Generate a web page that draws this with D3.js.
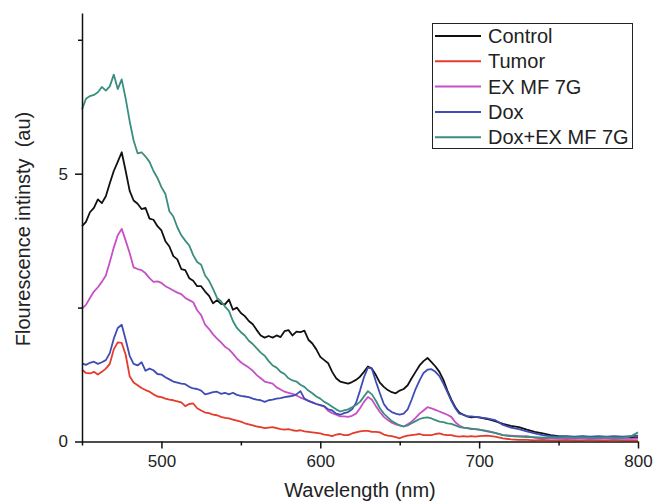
<!DOCTYPE html>
<html>
<head>
<meta charset="utf-8">
<script src="https://cdn.jsdelivr.net/npm/d3@7"></script>
<style>
  html, body { margin: 0; padding: 0; background: #fff; }
  svg { display: block; font-family: "Liberation Sans", Arial, sans-serif; }
</style>
</head>
<body>
<svg id="chart" width="654" height="502"></svg>
<script>
// ---- data ----
const wavelengths = [
  450,452.5,455,457.5,460,462.5,465,467.5,470,472.5,475,477.5,480,482.5,485,487.5,490,492.5,495,497.5,
  500,502.5,505,507.5,510,512.5,515,517.5,520,522.5,525,527.5,530,532.5,535,537.5,540,542.5,545,547.5,
  550,552.5,555,557.5,560,562.5,565,567.5,570,572.5,575,577.5,580,582.5,585,587.5,590,592.5,595,597.5,
  600,602.5,605,607.5,610,612.5,615,617.5,620,622.5,625,627.5,630,632.5,635,637.5,640,642.5,645,647.5,
  650,652.5,655,657.5,660,662.5,665,667.5,670,672.5,675,677.5,680,682.5,685,687.5,690,692.5,695,697.5,
  700,705,710,715,720,725,730,735,740,745,750,755,760,765,770,775,780,785,790,795,800
];
const control = [
  4.02,4.10,4.28,4.36,4.52,4.45,4.58,4.82,5.05,5.22,5.40,5.05,4.68,4.50,4.44,4.34,4.36,4.16,4.14,4.02,
  3.94,3.74,3.64,3.46,3.40,3.22,3.20,3.05,3.00,2.90,2.90,2.80,2.72,2.58,2.64,2.57,2.56,2.65,2.46,2.50,
  2.40,2.34,2.25,2.19,2.08,1.98,1.94,1.97,1.94,1.98,1.95,2.06,2.08,1.98,2.05,2.04,2.07,1.90,1.83,1.72,
  1.58,1.52,1.46,1.30,1.18,1.12,1.10,1.08,1.11,1.15,1.21,1.30,1.40,1.36,1.24,1.10,1.02,0.96,0.92,0.90,
  0.95,0.98,1.05,1.18,1.30,1.42,1.50,1.56,1.48,1.40,1.30,1.15,0.95,0.78,0.64,0.54,0.50,0.47,0.45,0.46,
  0.45,0.42,0.38,0.33,0.29,0.27,0.22,0.18,0.15,0.12,0.10,0.09,0.08,0.09,0.08,0.07,0.08,0.07,0.08,0.07,0.08
];
const tumor = [
  1.34,1.28,1.27,1.30,1.25,1.30,1.36,1.45,1.72,1.85,1.84,1.62,1.22,1.10,1.05,1.00,0.96,0.93,0.88,0.84,
  0.83,0.80,0.78,0.77,0.75,0.73,0.66,0.70,0.71,0.62,0.58,0.54,0.53,0.50,0.49,0.46,0.44,0.43,0.41,0.39,
  0.37,0.34,0.32,0.30,0.28,0.27,0.25,0.26,0.27,0.25,0.23,0.22,0.23,0.21,0.20,0.21,0.19,0.18,0.17,0.16,
  0.15,0.13,0.12,0.10,0.13,0.14,0.12,0.12,0.15,0.17,0.19,0.20,0.20,0.18,0.18,0.17,0.13,0.11,0.10,0.08,
  0.06,0.09,0.11,0.12,0.13,0.14,0.12,0.12,0.12,0.14,0.15,0.13,0.12,0.12,0.10,0.09,0.10,0.09,0.10,0.09,
  0.10,0.11,0.09,0.06,0.04,0.03,0.03,0.02,0.03,0.02,0.02,0.03,0.02,0.02,0.03,0.02,0.02,0.03,0.02,0.02,0.02
];
const exmf7g = [
  2.48,2.55,2.68,2.80,2.88,2.98,3.10,3.35,3.62,3.85,3.97,3.75,3.52,3.25,3.22,3.20,3.14,3.05,2.98,2.99,
  2.96,2.90,2.86,2.82,2.78,2.75,2.68,2.64,2.60,2.45,2.36,2.18,2.10,2.00,1.92,1.85,1.77,1.72,1.64,1.55,
  1.48,1.43,1.38,1.32,1.24,1.18,1.12,1.10,1.08,1.01,0.97,0.93,0.91,0.89,0.86,0.82,0.79,0.76,0.73,0.70,
  0.68,0.65,0.57,0.53,0.50,0.47,0.47,0.46,0.48,0.52,0.62,0.74,0.83,0.78,0.66,0.55,0.46,0.40,0.35,0.32,
  0.30,0.28,0.32,0.37,0.44,0.52,0.58,0.64,0.62,0.59,0.56,0.53,0.50,0.46,0.36,0.30,0.26,0.25,0.23,0.23,
  0.22,0.20,0.16,0.12,0.11,0.10,0.10,0.07,0.06,0.06,0.05,0.06,0.05,0.06,0.05,0.05,0.06,0.05,0.05,0.05,0.06
];
const dox = [
  1.46,1.43,1.47,1.49,1.45,1.48,1.52,1.65,1.92,2.12,2.18,1.90,1.60,1.45,1.42,1.48,1.32,1.36,1.33,1.26,
  1.25,1.20,1.16,1.12,1.10,1.08,1.07,1.02,0.99,0.98,0.95,0.88,0.90,0.92,0.93,0.89,0.91,0.88,0.91,0.87,
  0.85,0.84,0.83,0.80,0.78,0.77,0.74,0.77,0.78,0.80,0.81,0.83,0.84,0.85,0.88,0.94,0.80,0.76,0.73,0.70,
  0.68,0.66,0.60,0.58,0.52,0.50,0.53,0.55,0.60,0.72,0.95,1.20,1.38,1.36,1.12,0.90,0.70,0.60,0.55,0.52,
  0.50,0.52,0.60,0.78,0.98,1.14,1.28,1.34,1.35,1.30,1.22,1.08,0.92,0.76,0.62,0.52,0.50,0.47,0.47,0.46,
  0.45,0.43,0.40,0.31,0.26,0.23,0.19,0.15,0.12,0.10,0.09,0.10,0.09,0.10,0.09,0.10,0.09,0.10,0.09,0.10,0.11
];
const doxExmf7g = [
  6.20,6.40,6.45,6.47,6.52,6.62,6.55,6.63,6.85,6.58,6.76,6.40,5.98,5.62,5.38,5.40,5.32,5.22,5.05,4.92,
  4.75,4.62,4.30,4.20,4.00,3.85,3.75,3.66,3.48,3.35,3.30,3.10,3.00,2.85,2.68,2.62,2.52,2.44,2.25,2.12,
  2.04,1.98,1.88,1.82,1.74,1.66,1.60,1.50,1.42,1.38,1.30,1.26,1.18,1.14,1.12,1.06,1.02,0.95,0.90,0.84,
  0.80,0.74,0.70,0.65,0.60,0.56,0.58,0.60,0.64,0.68,0.74,0.84,0.94,0.88,0.76,0.62,0.52,0.45,0.38,0.34,
  0.30,0.28,0.30,0.34,0.38,0.42,0.44,0.45,0.43,0.40,0.37,0.36,0.34,0.33,0.30,0.27,0.26,0.25,0.24,0.23,
  0.22,0.19,0.16,0.12,0.10,0.09,0.08,0.08,0.07,0.08,0.07,0.08,0.07,0.08,0.07,0.07,0.08,0.07,0.07,0.09,0.17
];
const seriesNames = ["Control", "Tumor", "EX MF 7G", "Dox", "Dox+EX MF 7G"];
const seriesColors = ["#111111", "#e53b2c", "#c650c6", "#3e4cb5", "#3a8e7e"];
const seriesValues = [control, tumor, exmf7g, dox, doxExmf7g];
const xMajorTicks = [500, 600, 700, 800];
const xMinorTicks = [450, 550, 650, 750];
const yMajorTicks = [0, 5];
const yMinorTicks = [2.5, 7.5];

// ---- drawing ----
const svg = d3.select("#chart");
const x = d3.scaleLinear().domain([450, 800]).range([82, 638]);
const y = d3.scaleLinear().domain([0, 8]).range([441.5, 13]);

// lines
const line = d3.line()
  .x((d, i) => x(wavelengths[i]))
  .y(d => y(d));
svg.append("g").selectAll("path")
  .data(seriesValues)
  .join("path")
  .attr("fill", "none")
  .attr("stroke", (d, i) => seriesColors[i])
  .attr("stroke-width", 1.8)
  .attr("stroke-linejoin", "round")
  .attr("d", line);

// x axis
const xAxisG = svg.append("g").attr("transform", `translate(0,${y(0)})`);
xAxisG.call(d3.axisBottom(x).tickValues(xMajorTicks).tickSize(7).tickSizeOuter(0).tickPadding(6));
xAxisG.append("g").call(d3.axisBottom(x).tickValues(xMinorTicks).tickSize(4).tickSizeOuter(0).tickFormat(""))
  .select(".domain").remove();

// y axis
const yAxisG = svg.append("g").attr("transform", `translate(${x(450)},0)`);
yAxisG.call(d3.axisLeft(y).tickValues(yMajorTicks).tickSize(7).tickSizeOuter(0).tickPadding(7).tickFormat(d3.format("d")));
yAxisG.append("g").call(d3.axisLeft(y).tickValues(yMinorTicks).tickSize(4).tickSizeOuter(0).tickFormat(""))
  .select(".domain").remove();

svg.selectAll(".domain").attr("stroke", "#111").attr("stroke-width", 1.5);
svg.selectAll(".tick line").attr("stroke", "#111").attr("stroke-width", 1.5);
svg.selectAll(".tick text")
  .attr("font-family", "'Liberation Sans', Arial, sans-serif")
  .attr("font-size", 17)
  .attr("fill", "#222");

// axis titles
svg.append("text")
  .attr("x", 360).attr("y", 497)
  .attr("text-anchor", "middle")
  .attr("font-size", 20)
  .attr("fill", "#222")
  .text("Wavelength (nm)");
svg.append("text")
  .attr("transform", "translate(30,229) rotate(-90)")
  .attr("text-anchor", "middle")
  .attr("font-size", 20)
  .attr("fill", "#222")
  .style("white-space", "pre")
  .text("Flourescence intinsty  (au)");

// legend
const legend = svg.append("g");
legend.append("rect")
  .attr("x", 432.5).attr("y", 23.5).attr("width", 200).attr("height", 125)
  .attr("fill", "#fff").attr("stroke", "#222").attr("stroke-width", 1);
const items = legend.selectAll("g.item")
  .data(seriesNames)
  .join("g")
  .attr("class", "item")
  .attr("transform", (d, i) => `translate(0,${36 + i * 25.3})`);
items.append("line")
  .attr("x1", 435).attr("x2", 481)
  .attr("stroke", (d, i) => seriesColors[i])
  .attr("stroke-width", 2);
items.append("text")
  .attr("x", 488).attr("dy", "0.35em")
  .attr("font-size", 20)
  .attr("fill", "#222")
  .text(d => d);
</script>
</body>
</html>
